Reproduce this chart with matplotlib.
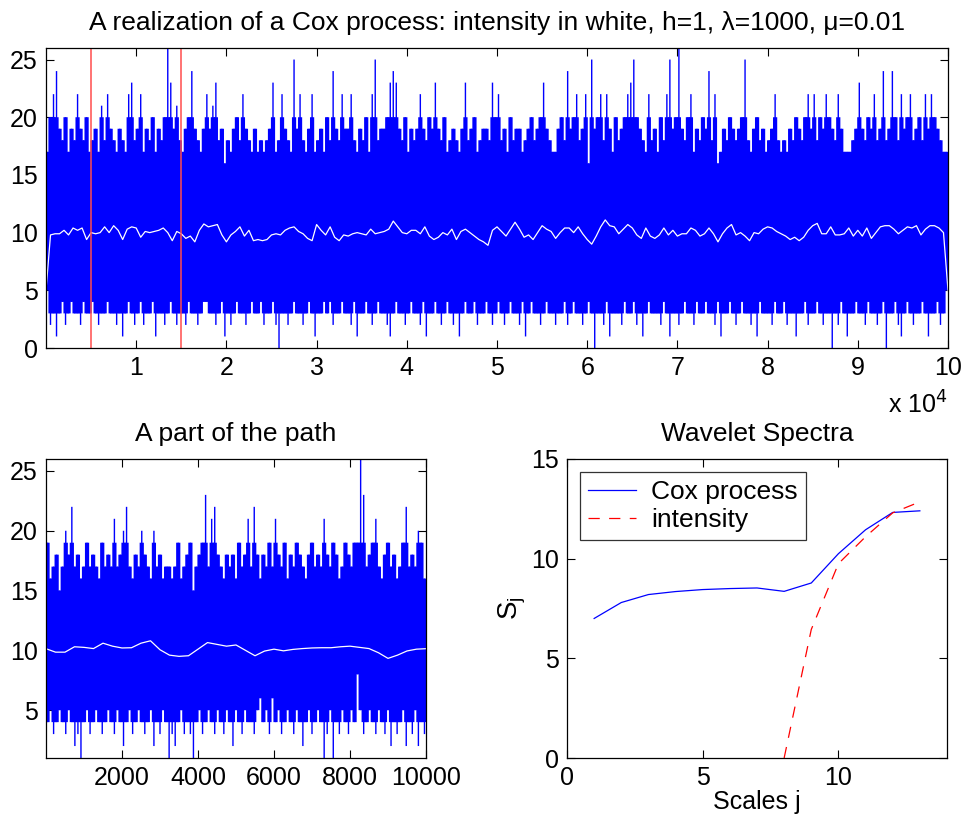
import numpy as np
import matplotlib
matplotlib.use("Agg")
import matplotlib.pyplot as plt

plt.rcParams['font.family'] = ['Liberation Sans', 'DejaVu Sans']
plt.rcParams['path.simplify'] = False

# ---- data ----
# top panel: counts path (100000 samples), summarised as the upper and lower
# excursions of each of 300 consecutive blocks
top_peaks = [
    17, 20, 22, 24, 19, 18, 20, 17, 19, 18, 22, 19, 18, 20, 17, 18, 19, 17, 21, 18,
    22, 19, 18, 17, 19, 18, 17, 22, 23, 18, 19, 22, 17, 19, 18, 20, 17, 19, 18, 20,
    26, 23, 19, 21, 18, 17, 19, 20, 24, 19, 18, 17, 19, 22, 19, 21, 23, 18, 19, 16,
    18, 17, 19, 20, 18, 22, 19, 18, 17, 19, 17, 18, 17, 18, 19, 23, 17, 18, 22, 19,
    18, 17, 25, 19, 22, 18, 17, 19, 22, 17, 18, 19, 17, 20, 18, 24, 19, 18, 22, 19,
    19, 22, 18, 17, 19, 18, 20, 17, 22, 25, 18, 19, 19, 20, 23, 24, 23, 19, 18, 20,
    17, 19, 18, 19, 22, 19, 18, 20, 19, 23, 19, 18, 20, 17, 18, 19, 18, 17, 19, 23,
    18, 19, 20, 17, 18, 19, 19, 18, 23, 20, 22, 18, 19, 17, 20, 18, 19, 19, 17, 18,
    19, 20, 18, 19, 20, 23, 19, 18, 17, 17, 19, 20, 18, 24, 19, 20, 22, 18, 19, 22,
    16, 25, 19, 20, 22, 18, 22, 19, 17, 20, 18, 19, 20, 22, 23, 25, 20, 19, 18, 17,
    22, 18, 19, 17, 20, 18, 22, 25, 19, 20, 26, 19, 18, 20, 22, 17, 19, 18, 20, 19,
    24, 18, 22, 16, 17, 19, 18, 20, 19, 18, 19, 20, 25, 18, 17, 19, 20, 18, 19, 17,
    18, 19, 22, 18, 17, 18, 17, 19, 18, 20, 19, 18, 20, 22, 19, 22, 18, 20, 19, 22,
    20, 19, 18, 22, 19, 17, 17, 17, 18, 19, 23, 19, 18, 20, 19, 22, 18, 19, 24, 18,
    19, 24, 20, 18, 22, 19, 20, 22, 18, 19, 20, 18, 22, 19, 22, 20, 19, 18, 17, 17,
]
top_dips = [
    5, 2, 3, 1, 3, 4, 2, 3, 4, 3, 3, 2, 4, 3, 3, 4, 3, 2, 3, 3,
    4, 3, 3, 2, 3, 1, 3, 4, 3, 2, 3, 4, 2, 3, 3, 4, 1, 3, 3, 2,
    3, 4, 3, 2, 3, 3, 2, 4, 3, 3, 2, 3, 4, 4, 3, 3, 2, 3, 4, 1,
    3, 2, 3, 4, 3, 3, 2, 3, 4, 3, 3, 4, 2, 3, 3, 4, 2, 0, 3, 3,
    2, 3, 4, 3, 3, 2, 3, 4, 3, 1, 3, 3, 4, 3, 4, 2, 3, 3, 4, 3,
    3, 2, 4, 1, 3, 3, 4, 3, 2, 3, 4, 3, 3, 2, 1, 3, 4, 3, 3, 2,
    3, 4, 3, 3, 2, 4, 1, 3, 3, 4, 3, 2, 3, 4, 3, 2, 3, 1, 3, 4,
    3, 3, 4, 2, 3, 3, 4, 3, 2, 3, 4, 3, 2, 3, 4, 3, 3, 2, 4, 1,
    3, 4, 3, 3, 2, 3, 4, 3, 3, 2, 3, 3, 4, 2, 3, 4, 3, 3, 2, 3,
    4, 3, 0, 3, 3, 2, 4, 1, 3, 3, 3, 2, 4, 3, 3, 4, 2, 3, 1, 3,
    4, 3, 3, 3, 2, 4, 3, 1, 3, 3, 2, 3, 4, 3, 3, 2, 4, 3, 3, 4,
    3, 3, 2, 4, 1, 3, 3, 4, 3, 2, 3, 4, 3, 3, 2, 3, 1, 4, 3, 3,
    3, 2, 4, 3, 3, 4, 2, 3, 3, 1, 3, 3, 4, 2, 3, 3, 4, 3, 2, 3,
    3, 0, 3, 2, 4, 3, 1, 3, 3, 4, 3, 3, 2, 4, 3, 3, 2, 3, 4, 0,
    3, 3, 4, 2, 1, 3, 4, 3, 2, 3, 3, 4, 3, 1, 3, 3, 4, 2, 3, 5,
]

# intensity (white curve), one value every 500 samples, 0 .. 100000
top_intensity = [
    5.0, 9.8, 9.9, 9.9, 10.2, 9.8, 10.4, 10.2, 10.4, 9.4, 10.0, 9.9, 10.0, 10.5, 10.0,
    10.6, 10.2, 9.4, 10.3, 10.5, 10.4, 9.6, 10.1, 10.0, 10.1, 10.2, 10.4, 10.0, 9.3, 10.1,
    9.9, 9.5, 9.7, 9.2, 10.2, 10.75, 10.5, 10.6, 10.7, 9.8, 9.2, 9.8, 10.1, 10.5, 9.7,
    10.2, 9.3, 9.4, 9.3, 9.4, 9.8, 9.9, 9.8, 10.2, 10.4, 10.5, 10.1, 9.9, 9.5, 9.3,
    10.7, 10.2, 9.8, 10.5, 9.6, 9.3, 9.8, 9.7, 9.9, 10.0, 9.9, 9.8, 10.3, 9.9, 10.0,
    10.1, 10.3, 11.0, 10.5, 10.0, 9.9, 10.2, 10.2, 9.9, 10.5, 9.7, 9.4, 9.6, 10.0, 9.8,
    10.3, 9.4, 10.1, 10.3, 10.0, 9.7, 9.4, 9.2, 8.9, 10.2, 10.5, 10.1, 9.7, 10.3, 10.9,
    10.3, 9.6, 9.8, 9.4, 10.0, 10.6, 10.3, 10.1, 9.5, 10.0, 10.4, 10.4, 10.0, 10.5, 9.9,
    9.4, 9.0, 9.7, 10.5, 11.1, 10.6, 10.5, 9.9, 10.3, 10.7, 10.4, 9.8, 9.5, 10.4, 9.7,
    9.5, 9.8, 10.4, 9.8, 10.2, 9.7, 9.9, 9.9, 10.4, 10.2, 9.7, 9.9, 10.4, 9.9, 9.2,
    9.9, 10.4, 10.7, 9.8, 10.0, 9.7, 9.3, 10.0, 9.9, 10.3, 10.5, 10.4, 10.1, 9.9, 9.7,
    9.4, 9.6, 9.3, 9.6, 10.2, 10.6, 10.8, 9.9, 9.9, 10.5, 9.8, 9.8, 9.9, 10.4, 9.7,
    10.2, 9.7, 10.4, 9.5, 10.0, 10.5, 10.6, 10.6, 10.3, 9.9, 10.2, 10.5, 10.4, 10.6, 9.8,
    10.3, 10.6, 10.6, 10.4, 10.0, 5.0,
]
window_start, window_end = 5000, 15000

# bottom-left panel: 10000 samples, 125 blocks
part_peaks = [
    19, 16, 17, 18, 15, 17, 20, 18, 22, 17, 18, 16, 17, 19, 17, 18, 17, 16, 19, 17,
    18, 17, 21, 17, 18, 20, 22, 17, 16, 18, 17, 20, 18, 17, 16, 20, 17, 18, 16, 17,
    17, 16, 17, 19, 16, 17, 18, 19, 15, 17, 18, 19, 23, 17, 21, 22, 18, 17, 16, 18,
    17, 18, 16, 19, 17, 18, 21, 17, 22, 18, 16, 18, 17, 19, 17, 21, 18, 17, 19, 16,
    18, 17, 19, 18, 17, 16, 18, 19, 17, 18, 17, 21, 18, 17, 19, 18, 16, 17, 19, 18,
    17, 19, 19, 26, 23, 17, 18, 19, 21, 17, 16, 18, 19, 17, 18, 16, 17, 19, 22, 17,
    18, 17, 20, 19, 16,
]
part_dips = [
    4, 5, 3, 4, 5, 4, 3, 5, 4, 2, 3, 1, 4, 5, 3, 4, 5, 4, 3, 4,
    5, 4, 3, 5, 4, 2, 4, 5, 3, 4, 5, 4, 3, 4, 5, 2, 4, 3, 5, 4,
    1, 3, 2, 4, 5, 3, 4, 3, 1, 4, 5, 3, 4, 5, 4, 3, 5, 4, 3, 5,
    4, 2, 5, 4, 3, 5, 4, 4, 3, 5, 6, 4, 5, 3, 6, 4, 5, 3, 4, 5,
    4, 3, 5, 4, 2, 4, 5, 3, 4, 5, 4, 1, 3, 5, 1, 4, 3, 5, 4, 3,
    5, 4, 8, 5, 3, 4, 5, 4, 3, 5, 4, 3, 5, 2, 4, 3, 4, 5, 2, 4,
    3, 5, 2, 4, 3,
]

# intensity on the part, one value every 250 samples, 0 .. 10000
part_intensity = [
    10.14, 9.85, 9.85, 10.3, 10.25, 10.15, 10.6, 10.35, 10.2, 10.22, 10.6, 10.8, 10.05,
    9.6, 9.5, 9.55, 10.1, 10.65, 10.5, 10.35, 10.45, 10.0, 9.55, 9.94, 10.1, 9.96, 10.08,
    10.15, 10.2, 10.22, 10.22, 10.3, 10.35, 10.25, 10.15, 9.8, 9.33, 9.6, 9.95, 10.1, 10.14,
]

# wavelet spectra
scales = [1, 2, 3, 4, 5, 6, 7, 8, 9, 10, 11, 12, 13]
cox_spectrum = [7.0, 7.8, 8.2, 8.35, 8.45, 8.5, 8.53, 8.36, 8.78, 10.25, 11.45, 12.32, 12.4]
intensity_scales = [8, 9, 10, 11, 12, 13]
intensity_spectrum = [0.0, 6.45, 9.75, 11.1, 12.3, 12.85]

BLUE = '#0000ff'


def draw_path(ax, dips, peaks, n, core_lo, core_hi, width_px):
    # each block: a full-width stroke over the dense core, and a thin stroke
    # out to its extreme counts (isolated excursions look like hairlines)
    dips = np.asarray(dips, float)
    peaks = np.asarray(peaks, float)
    edges = np.linspace(0, n, len(dips) + 1)
    xc = (edges[:-1] + edges[1:]) / 2
    ax.vlines(xc, np.maximum(dips, core_lo), np.minimum(peaks, core_hi),
              colors=BLUE, linewidth=width_px * 0.72, capstyle='butt', snap=False)
    ax.vlines(xc, dips, peaks, colors=BLUE, linewidth=1.4 * 0.72,
              capstyle='butt', snap=False)


def matlab_axes(ax):
    ax.tick_params(direction='in', top=True, right=True, length=6, width=0.8,
                   labelsize=18, pad=6)
    for s in ax.spines.values():
        s.set_linewidth(0.9)


fs = 19
fig = plt.figure(figsize=(9.66, 8.25), dpi=100)

# ---- top panel ----
ax1 = fig.add_axes([46 / 966, 1 - 348 / 825, 902 / 966, 300 / 825])
draw_path(ax1, top_dips, top_peaks, 100000, 3, 20, 4.2)
ax1.plot(np.linspace(0, 100000, len(top_intensity)), top_intensity, color='white', lw=0.9)
for xv in (window_start, window_end):
    ax1.axvline(xv, color='#ff4d4d', lw=1.1)
ax1.set_xlim(0, 100000)
ax1.set_ylim(0, 26)
ax1.set_yticks([0, 5, 10, 15, 20, 25])
ax1.set_xticks(np.arange(1, 11) * 10000)
ax1.set_xticklabels([str(i) for i in range(1, 11)])
matlab_axes(ax1)
ax1.set_title('A realization of a Cox process: intensity in white, h=1, λ=1000, μ=0.01',
              fontsize=fs, pad=13)
ax1.text(1.0, -0.19, r'x 10$^4$', transform=ax1.transAxes, fontsize=18,
         ha='right', va='center')

# ---- bottom-left panel ----
ax2 = fig.add_axes([46 / 966, 1 - 758 / 825, 380 / 966, 299 / 825])
draw_path(ax2, part_dips, part_peaks, 10000, 4, 19, 4.2)
ax2.plot(np.linspace(0, 10000, len(part_intensity)), part_intensity, color='white', lw=0.9)
ax2.set_xlim(0, 10000)
ax2.set_ylim(1, 26)
ax2.set_xticks([2000, 4000, 6000, 8000, 10000])
ax2.set_yticks([5, 10, 15, 20, 25])
matlab_axes(ax2)
ax2.set_title('A part of the path', fontsize=fs, pad=13)

# ---- bottom-right panel ----
ax3 = fig.add_axes([567 / 966, 1 - 758 / 825, 380 / 966, 299 / 825])
ax3.plot(scales, cox_spectrum, color=BLUE, lw=0.9, label='Cox process')
ax3.plot(intensity_scales, intensity_spectrum, color='#ff0000', lw=0.9,
         dashes=(9, 7.5), label='intensity')
ax3.set_xlim(0, 14)
ax3.set_ylim(0, 15)
ax3.set_xticks([0, 5, 10])
ax3.set_yticks([0, 5, 10, 15])
matlab_axes(ax3)
ax3.set_title('Wavelet Spectra', fontsize=fs, pad=13)
ax3.set_xlabel('Scales j', fontsize=18, labelpad=0)
ax3.set_ylabel(r'S$_\mathregular{j}$', fontsize=20, labelpad=2)
leg = ax3.legend(loc='upper left', fontsize=19, frameon=True, fancybox=False,
                 edgecolor='black', borderaxespad=0.5, handlelength=1.8,
                 borderpad=0.3, labelspacing=0.15, handletextpad=0.6)
leg.get_frame().set_linewidth(0.9)

fig.savefig('out.png', dpi=100)
